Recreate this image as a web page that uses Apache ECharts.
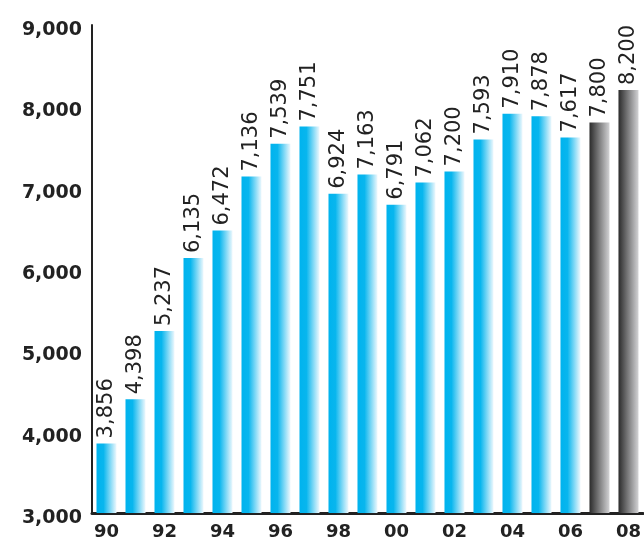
<!DOCTYPE html>
<html>
<head>
<meta charset="utf-8">
<script src="https://cdn.jsdelivr.net/npm/echarts@6/dist/echarts.min.js"></script>
<style>
  html, body { margin: 0; padding: 0; background: #fff; }
  #chart { width: 644px; height: 542px; }
</style>
</head>
<body>
<div id="chart"></div>
<script>
// Years shown on the category axis
const years = ['90','91','92','93','94','95','96','97','98','99',
               '00','01','02','03','04','05','06','07','08'];
// Annual totals
const values = [3856, 4398, 5237, 6135, 6472, 7136, 7539, 7751, 6924, 7163,
                6791, 7062, 7200, 7593, 7910, 7878, 7617, 7800, 8200];
// Years that are estimates (drawn in grey)
const estimateYears = ['07', '08'];
// Value axis range
const yMin = 3000, yMax = 9000, yStep = 1000;

const blueFill = new echarts.graphic.LinearGradient(0, 0, 1, 0, [
  { offset: 0, color: '#00b3ee' },
  { offset: 0.35, color: '#08b6ee' },
  { offset: 1, color: '#eef8fd' }
]);
const greyFill = new echarts.graphic.LinearGradient(0, 0, 1, 0, [
  { offset: 0, color: '#2b2b2b' },
  { offset: 1, color: '#d2d2d4' }
]);

const data = values.map((v, i) => ({
  value: v,
  itemStyle: { color: estimateYears.includes(years[i]) ? greyFill : blueFill }
}));

const chart = echarts.init(document.getElementById('chart'), null, { renderer: 'canvas' });
chart.setOption({
  animation: false,
  grid: { left: 92, right: 1, top: 25, bottom: 29 },
  xAxis: {
    type: 'category',
    data: years,
    axisLine: { show: true, lineStyle: { color: '#222', width: 3 } },
    axisTick: { show: false },
    axisLabel: {
      interval: 1,
      margin: 10,
      color: '#222',
      fontFamily: 'DejaVu Sans',
      fontWeight: 'bold',
      fontSize: 18
    }
  },
  yAxis: {
    type: 'value',
    min: yMin, max: yMax, interval: yStep,
    splitLine: { show: false },
    axisTick: { show: false },
    axisLine: { show: true, lineStyle: { color: '#222', width: 2 } },
    axisLabel: {
      margin: 10,
      verticalAlign: 'top',
      lineHeight: 10,
      color: '#222',
      fontFamily: 'DejaVu Sans',
      fontWeight: 'bold',
      fontSize: 19,
      formatter: v => v.toLocaleString('en-US')
    }
  },
  series: [{
    type: 'bar',
    data: data,
    barWidth: 20,
    label: {
      show: true,
      position: 'top',
      rotate: 90,
      align: 'left',
      verticalAlign: 'middle',
      distance: 5,
      color: '#222',
      fontFamily: 'DejaVu Sans',
      fontSize: 21,
      formatter: p => p.value.toLocaleString('en-US')
    }
  }]
});
</script>
</body>
</html>
